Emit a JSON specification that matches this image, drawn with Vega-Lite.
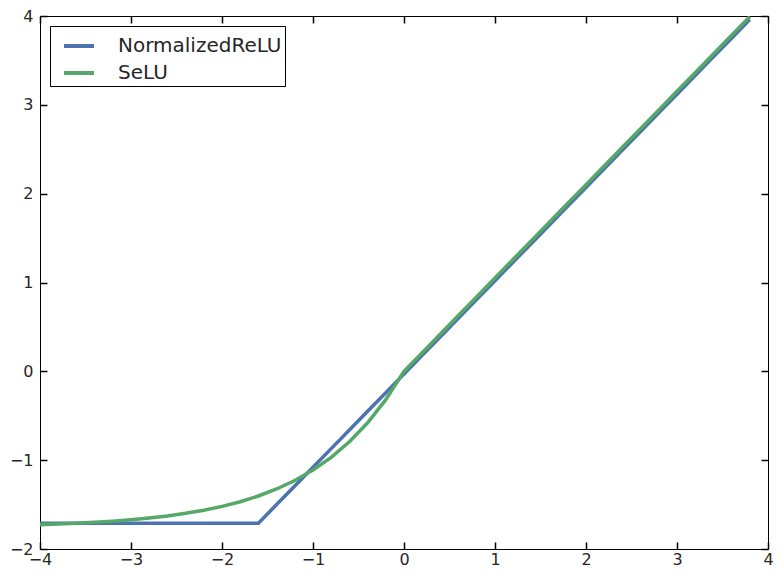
{
  "$schema": "https://vega.github.io/schema/vega-lite/v6.json",
  "width": 728,
  "height": 533,
  "autosize": "none",
  "padding": {"left": 40, "top": 16, "right": 16, "bottom": 31},
  "config": {
    "font": "DejaVu Sans",
    "view": {"stroke": "black", "strokeWidth": 1},
    "axis": {
      "grid": false,
      "domain": false,
      "ticks": true,
      "tickColor": "#000000",
      "tickOpacity": 1,
      "tickSize": 7,
      "offset": -7,
      "tickWidth": 1.5,
      "labelFlush": false,
      "labelOverlap": false,
      "labelFont": "DejaVu Sans",
      "labelFontSize": 16,
      "labelColor": "#262626",
      "title": null
    }
  },
  "data": {
    "values": [
      {"x": -4.0, "y": -1.71, "series": "NormalizedReLU"},
      {"x": -3.8, "y": -1.71, "series": "NormalizedReLU"},
      {"x": -3.6, "y": -1.71, "series": "NormalizedReLU"},
      {"x": -3.4, "y": -1.71, "series": "NormalizedReLU"},
      {"x": -3.2, "y": -1.71, "series": "NormalizedReLU"},
      {"x": -3.0, "y": -1.71, "series": "NormalizedReLU"},
      {"x": -2.8, "y": -1.71, "series": "NormalizedReLU"},
      {"x": -2.6, "y": -1.71, "series": "NormalizedReLU"},
      {"x": -2.4, "y": -1.71, "series": "NormalizedReLU"},
      {"x": -2.2, "y": -1.71, "series": "NormalizedReLU"},
      {"x": -2.0, "y": -1.71, "series": "NormalizedReLU"},
      {"x": -1.8, "y": -1.71, "series": "NormalizedReLU"},
      {"x": -1.6, "y": -1.71, "series": "NormalizedReLU"},
      {"x": -1.4, "y": -1.50, "series": "NormalizedReLU"},
      {"x": -1.2, "y": -1.29, "series": "NormalizedReLU"},
      {"x": -1.0, "y": -1.08, "series": "NormalizedReLU"},
      {"x": -0.8, "y": -0.87, "series": "NormalizedReLU"},
      {"x": -0.6, "y": -0.66, "series": "NormalizedReLU"},
      {"x": -0.4, "y": -0.45, "series": "NormalizedReLU"},
      {"x": -0.2, "y": -0.24, "series": "NormalizedReLU"},
      {"x": 0.0, "y": -0.03, "series": "NormalizedReLU"},
      {"x": 0.2, "y": 0.18, "series": "NormalizedReLU"},
      {"x": 0.4, "y": 0.39, "series": "NormalizedReLU"},
      {"x": 0.6, "y": 0.60, "series": "NormalizedReLU"},
      {"x": 0.8, "y": 0.81, "series": "NormalizedReLU"},
      {"x": 1.0, "y": 1.02, "series": "NormalizedReLU"},
      {"x": 1.2, "y": 1.23, "series": "NormalizedReLU"},
      {"x": 1.4, "y": 1.44, "series": "NormalizedReLU"},
      {"x": 1.6, "y": 1.65, "series": "NormalizedReLU"},
      {"x": 1.8, "y": 1.86, "series": "NormalizedReLU"},
      {"x": 2.0, "y": 2.07, "series": "NormalizedReLU"},
      {"x": 2.2, "y": 2.28, "series": "NormalizedReLU"},
      {"x": 2.4, "y": 2.49, "series": "NormalizedReLU"},
      {"x": 2.6, "y": 2.70, "series": "NormalizedReLU"},
      {"x": 2.8, "y": 2.91, "series": "NormalizedReLU"},
      {"x": 3.0, "y": 3.12, "series": "NormalizedReLU"},
      {"x": 3.2, "y": 3.33, "series": "NormalizedReLU"},
      {"x": 3.4, "y": 3.54, "series": "NormalizedReLU"},
      {"x": 3.6, "y": 3.75, "series": "NormalizedReLU"},
      {"x": 3.8, "y": 3.96, "series": "NormalizedReLU"},
      {"x": -4.0, "y": -1.7259, "series": "SeLU"},
      {"x": -3.8, "y": -1.7188, "series": "SeLU"},
      {"x": -3.6, "y": -1.7101, "series": "SeLU"},
      {"x": -3.4, "y": -1.6994, "series": "SeLU"},
      {"x": -3.2, "y": -1.6864, "series": "SeLU"},
      {"x": -3.0, "y": -1.6706, "series": "SeLU"},
      {"x": -2.8, "y": -1.6512, "series": "SeLU"},
      {"x": -2.6, "y": -1.6275, "series": "SeLU"},
      {"x": -2.4, "y": -1.5986, "series": "SeLU"},
      {"x": -2.2, "y": -1.5633, "series": "SeLU"},
      {"x": -2.0, "y": -1.5202, "series": "SeLU"},
      {"x": -1.8, "y": -1.4675, "series": "SeLU"},
      {"x": -1.6, "y": -1.4031, "series": "SeLU"},
      {"x": -1.4, "y": -1.3245, "series": "SeLU"},
      {"x": -1.2, "y": -1.2286, "series": "SeLU"},
      {"x": -1.0, "y": -1.1113, "series": "SeLU"},
      {"x": -0.8, "y": -0.9681, "series": "SeLU"},
      {"x": -0.6, "y": -0.7932, "series": "SeLU"},
      {"x": -0.4, "y": -0.5796, "series": "SeLU"},
      {"x": -0.2, "y": -0.3187, "series": "SeLU"},
      {"x": 0.0, "y": 0.0, "series": "SeLU"},
      {"x": 0.2, "y": 0.2101, "series": "SeLU"},
      {"x": 0.4, "y": 0.4203, "series": "SeLU"},
      {"x": 0.6, "y": 0.6304, "series": "SeLU"},
      {"x": 0.8, "y": 0.8406, "series": "SeLU"},
      {"x": 1.0, "y": 1.0507, "series": "SeLU"},
      {"x": 1.2, "y": 1.2608, "series": "SeLU"},
      {"x": 1.4, "y": 1.4710, "series": "SeLU"},
      {"x": 1.6, "y": 1.6811, "series": "SeLU"},
      {"x": 1.8, "y": 1.8913, "series": "SeLU"},
      {"x": 2.0, "y": 2.1014, "series": "SeLU"},
      {"x": 2.2, "y": 2.3115, "series": "SeLU"},
      {"x": 2.4, "y": 2.5217, "series": "SeLU"},
      {"x": 2.6, "y": 2.7318, "series": "SeLU"},
      {"x": 2.8, "y": 2.9420, "series": "SeLU"},
      {"x": 3.0, "y": 3.1521, "series": "SeLU"},
      {"x": 3.2, "y": 3.3622, "series": "SeLU"},
      {"x": 3.4, "y": 3.5724, "series": "SeLU"},
      {"x": 3.6, "y": 3.7825, "series": "SeLU"},
      {"x": 3.8, "y": 3.9927, "series": "SeLU"}
    ]
  },
  "layer": [
    {
      "mark": {"type": "line", "strokeWidth": 3.5, "clip": true},
      "encoding": {
        "x": {"field": "x", "type": "quantitative", "scale": {"domain": [-4, 4], "nice": false, "zero": false},
              "axis": {"orient": "bottom", "values": [-4, -3, -2, -1, 0, 1, 2, 3, 4], "labelPadding": 2}},
        "y": {"field": "y", "type": "quantitative", "scale": {"domain": [-2, 4], "nice": false, "zero": false},
              "axis": {"orient": "left", "values": [-2, -1, 0, 1, 2, 3, 4], "labelPadding": 7}},
        "color": {
          "field": "series", "type": "nominal",
          "scale": {"domain": ["NormalizedReLU", "SeLU"], "range": ["#4C72B0", "#55A868"]},
          "legend": {
            "title": null,
            "orient": "top-left",
            "offset": 10,
            "fillColor": "white",
            "strokeColor": "black",
            "padding": 3,
            "symbolOffset": 9,
            "symbolType": "stroke",
            "symbolStrokeWidth": 4,
            "symbolSize": 900,
            "labelFontSize": 20,
            "labelFont": "DejaVu Sans",
            "labelColor": "#262626",
            "labelOffset": 22,
            "rowPadding": -1,
            "labelLimit": 300
          }
        }
      }
    },
    {
      "mark": {"type": "line", "opacity": 0, "clip": true},
      "encoding": {
        "x": {"field": "x", "type": "quantitative",
              "axis": {"orient": "top", "values": [-4, -3, -2, -1, 0, 1, 2, 3, 4], "labels": false}},
        "y": {"field": "y", "type": "quantitative",
              "axis": {"orient": "right", "values": [-2, -1, 0, 1, 2, 3, 4], "labels": false}}
      }
    }
  ],
  "resolve": {"axis": {"x": "independent", "y": "independent"}}
}
